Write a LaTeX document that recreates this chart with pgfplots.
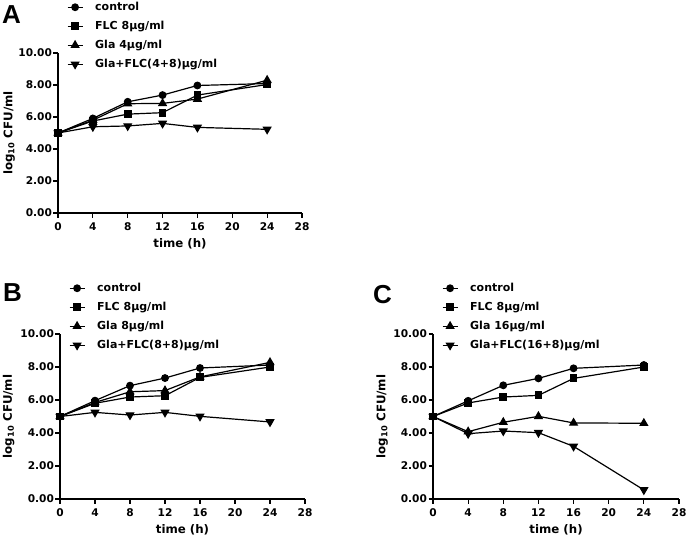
\documentclass[border=0pt]{standalone}
\usepackage{fontspec}
\setmainfont{DejaVu Sans}
\newfontfamily\letterfont{Liberation Sans}
\usepackage{pgfplots}
\pgfplotsset{compat=1.18}

\pgfplotsset{
  kurve/.style={
    scale only axis,
    xmin=0, xmax=28, ymin=0, ymax=10,
    axis lines=left,
    axis line style={-, line width=1.2pt},
    xtick={0,4,...,28}, ytick={0,2,...,10},
    tick align=outside, major tick length=4.5pt,
    tick style={line width=1.2pt, black},
    /pgf/number format/assume math mode=true,
    yticklabel style={/pgf/number format/fixed,/pgf/number format/precision=2,/pgf/number format/zerofill, xshift=2pt},
    xticklabel style={yshift=-2pt},
    ticklabel style={font=\fontsize{10.6}{12}\selectfont\bfseries},
    label style={font=\fontsize{11.8}{13}\selectfont\bfseries},
    xlabel={time (h)},
    ylabel={log\textsubscript{10} CFU/ml},
    xlabel style={at={(axis description cs:0.5,0)}, anchor=center, yshift=-31pt},
    clip=false,
    legend cell align=left,
    legend style={draw=none, fill=none, at={(0,1)}, anchor=north west,
      xshift=9pt, yshift=51pt, inner sep=0pt, outer sep=0pt,
      row sep=8.5pt, column sep=12pt,
      font=\fontsize{11}{13}\selectfont\bfseries,
      nodes={inner sep=0pt, text height=8pt, text depth=2.5pt}},
    legend image code/.code={
      \draw[mark repeat=2, mark phase=2, ##1] plot coordinates {(0pt,0pt) (7.5pt,0pt) (15pt,0pt)};},
  },
  ser/.style={black, line width=1.2pt, mark options={solid, fill=black}},
  s1/.style={ser, mark=*, mark size=3.3pt},
  s2/.style={ser, mark=square*, mark size=3.3pt},
  s3/.style={ser, mark=triangle*, mark size=4.2pt},
  s4/.style={ser, mark=triangle*, mark size=4.2pt, mark options={solid, fill=black, rotate=180}},
}

\begin{document}
\begin{tikzpicture}[x=1pt,y=1pt]
\path[use as bounding box] (0,0) rectangle (688,539);

% Panel A
\begin{axis}[kurve, at={(58pt,326pt)}, anchor=south west, width=244pt, height=160pt,
  ylabel style={at={(axis description cs:-0.2,0.5)}, anchor=center}]
\addplot[s1] coordinates {(0,5.0) (4,5.91) (8,6.95) (12,7.37) (16,7.97) (24,8.09)};
\addlegendentry{control}
\addplot[s2] coordinates {(0,5.0) (4,5.75) (8,6.18) (12,6.27) (16,7.37) (24,8.03)};
\addlegendentry{FLC 8μg/ml}
\addplot[s3] coordinates {(0,5.0) (4,5.8) (8,6.83) (12,6.85) (16,7.12) (24,8.3)};
\addlegendentry{Gla 4μg/ml}
\addplot[s4] coordinates {(0,5.0) (4,5.39) (8,5.44) (12,5.6) (16,5.35) (24,5.23)};
\addlegendentry{Gla+FLC(4+8)μg/ml}
\end{axis}

% Panel B
\begin{axis}[kurve, at={(60pt,40pt)}, anchor=south west, width=245pt, height=165pt,
  ylabel style={at={(axis description cs:-0.21,0.5)}, anchor=center}]
\addplot[s1] coordinates {(0,5.0) (4,5.96) (8,6.87) (12,7.33) (16,7.94) (24,8.12)};
\addlegendentry{control}
\addplot[s2] coordinates {(0,5.0) (4,5.8) (8,6.18) (12,6.26) (16,7.37) (24,8.0)};
\addlegendentry{FLC 8μg/ml}
\addplot[s3] coordinates {(0,5.0) (4,5.85) (8,6.5) (12,6.57) (16,7.4) (24,8.28)};
\addlegendentry{Gla 8μg/ml}
\addplot[s4] coordinates {(0,5.0) (4,5.25) (8,5.09) (12,5.25) (16,5.01) (24,4.67)};
\addlegendentry{Gla+FLC(8+8)μg/ml}
\end{axis}

% Panel C
\begin{axis}[kurve, at={(433pt,40pt)}, anchor=south west, width=246pt, height=165pt,
  ylabel style={at={(axis description cs:-0.207,0.5)}, anchor=center}]
\addplot[s1] coordinates {(0,5.0) (4,5.95) (8,6.89) (12,7.31) (16,7.92) (24,8.12)};
\addlegendentry{control}
\addplot[s2] coordinates {(0,5.0) (4,5.82) (8,6.18) (12,6.28) (16,7.31) (24,8.0)};
\addlegendentry{FLC 8μg/ml}
\addplot[s3] coordinates {(0,5.0) (4,4.08) (8,4.65) (12,5.01) (16,4.61) (24,4.59)};
\addlegendentry{Gla 16μg/ml}
\addplot[s4] coordinates {(0,5.0) (4,3.96) (8,4.12) (12,4.02) (16,3.19) (24,0.55)};
\addlegendentry{Gla+FLC(16+8)μg/ml}
\end{axis}

\node[anchor=north west, inner sep=0pt, font=\letterfont\fontsize{26}{30}\selectfont\bfseries] at (2,534) {A};
\node[anchor=north west, inner sep=0pt, font=\letterfont\fontsize{26}{30}\selectfont\bfseries] at (3,256) {B};
\node[anchor=north west, inner sep=0pt, font=\letterfont\fontsize{26}{30}\selectfont\bfseries] at (373,254) {C};
\end{tikzpicture}
\end{document}
